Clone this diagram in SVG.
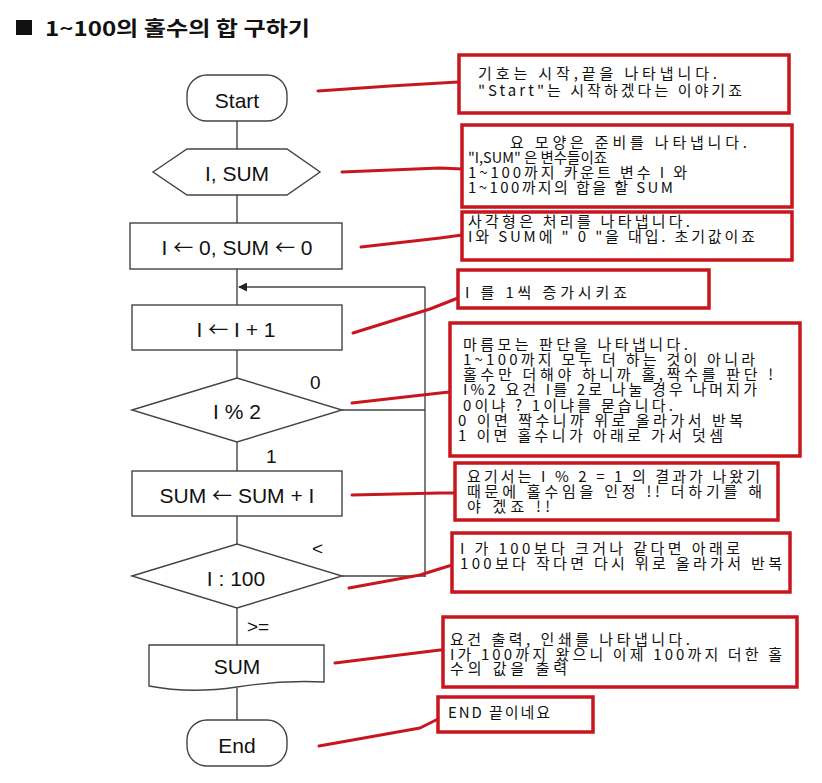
<svg xmlns="http://www.w3.org/2000/svg" width="822" height="783" viewBox="0 0 822 783">
<defs>
<style>
.shape{fill:#fff;stroke:#444;stroke-width:1.4}
.flow{fill:none;stroke:#444;stroke-width:1.4}
.lbl{font-family:"Liberation Sans","Noto Sans CJK KR",sans-serif;font-size:21px;fill:#111;text-anchor:middle}
.ar{font-family:"Noto Sans CJK KR",sans-serif;font-size:20px}
.sm{font-family:"Liberation Sans","Noto Sans CJK KR",sans-serif;font-size:19px;fill:#111}
.box{fill:#fff;stroke:#c8161e;stroke-width:3.5}
.ptr{fill:none;stroke:#c8161e;stroke-width:3;stroke-linecap:round;stroke-linejoin:round}
.note{font-family:"Noto Sans CJK KR","Noto Sans CJK SC",sans-serif;font-size:15px;fill:#111}
.title{font-family:"Noto Sans CJK KR","Liberation Sans",sans-serif;font-size:20px;font-weight:bold;fill:#111}
</style>
<marker id="ah" viewBox="0 0 10 10" refX="9" refY="5" markerWidth="9" markerHeight="9" markerUnits="userSpaceOnUse" orient="auto">
<path d="M0,0 L10,5 L0,10 Z" fill="#222"/>
</marker>
</defs>
<rect width="822" height="783" fill="#fff"/>

<g id="title">
<rect x="16" y="20" width="16" height="15" fill="#111"/>
<text class="title" x="45" y="36" textLength="265" lengthAdjust="spacingAndGlyphs">1~100의 홀수의 합 구하기</text>
</g>

<g id="connectors">
<line class="flow" x1="237" y1="121" x2="237" y2="149"/>
<line class="flow" x1="237" y1="195" x2="237" y2="223"/>
<line class="flow" x1="237" y1="269" x2="237" y2="305"/>
<line class="flow" x1="237" y1="350" x2="237" y2="378"/>
<line class="flow" x1="237" y1="442" x2="237" y2="471"/>
<line class="flow" x1="237" y1="516" x2="237" y2="544"/>
<line class="flow" x1="237" y1="608" x2="237" y2="645"/>
<line class="flow" x1="237" y1="688" x2="237" y2="720"/>
<line class="flow" x1="342" y1="410" x2="425" y2="410"/>
<line class="flow" x1="342" y1="576" x2="425" y2="576"/>
<line class="flow" x1="425" y1="577" x2="425" y2="287"/>
<line class="flow" x1="425" y1="287" x2="239" y2="287" marker-end="url(#ah)"/>
<text class="sm" x="310" y="389">0</text>
<text class="sm" x="266" y="463">1</text>
<text class="sm" x="312" y="555">&lt;</text>
<text class="sm" x="247" y="633">&gt;=</text>
</g>

<g id="start">
<rect class="shape" x="187" y="75" width="100" height="46" rx="20"/>
<text class="lbl" x="237" y="108">Start</text>
</g>
<g id="prep">
<polygon class="shape" points="153,172 187,149 287,149 320,172 287,195 187,195"/>
<text class="lbl" x="237" y="181">I, SUM</text>
</g>
<g id="init">
<rect class="shape" x="130" y="223" width="212" height="46"/>
<text class="lbl" x="237" y="255">I <tspan class="ar">←</tspan> 0, SUM <tspan class="ar">←</tspan> 0</text>
</g>
<g id="inc">
<rect class="shape" x="132" y="305" width="210" height="45"/>
<text class="lbl" x="236" y="337">I <tspan class="ar">←</tspan> I + 1</text>
</g>
<g id="mod">
<polygon class="shape" points="132,410 237,378 342,410 237,442"/>
<text class="lbl" x="237" y="419">I % 2</text>
</g>
<g id="add">
<rect class="shape" x="132" y="471" width="210" height="45"/>
<text class="lbl" x="237" y="503">SUM <tspan class="ar">←</tspan> SUM + I</text>
</g>
<g id="cmp">
<polygon class="shape" points="132,576 237,544 342,576 237,608"/>
<text class="lbl" x="236" y="586">I : 100</text>
</g>
<g id="output">
<path class="shape" d="M149,645 L324,645 L324,682 Q280,680 237,687 Q190,694 149,686 Z"/>
<text class="lbl" x="237" y="674">SUM</text>
</g>
<g id="end">
<rect class="shape" x="187" y="720" width="100" height="46" rx="20"/>
<text class="lbl" x="237" y="753">End</text>
</g>

<g id="pointers">
<polyline class="ptr" points="318,91 390,86 458,82"/>
<polyline class="ptr" points="342,172 440,168 462,169"/>
<polyline class="ptr" points="361,247 440,238 462,235"/>
<polyline class="ptr" points="353,333 430,309 458,298"/>
<polyline class="ptr" points="352,403 440,393 450,392"/>
<polyline class="ptr" points="352,495 440,493 455,493"/>
<polyline class="ptr" points="349,588 420,575 452,565"/>
<polyline class="ptr" points="335,663 440,650 443,650"/>
<polyline class="ptr" points="319,746 420,728 440,718"/>
</g>

<g id="note1">
<rect class="box" x="459" y="55" width="330" height="58"/>
<text class="note" x="478" y="79" textLength="239" lengthAdjust="spacing">기호는 시작,끝을 나타냅니다.</text>
<text class="note" x="478" y="96" textLength="264" lengthAdjust="spacing">"Start"는 시작하겠다는 이야기죠</text>
</g>
<g id="note2">
<rect class="box" x="462" y="125" width="330" height="82"/>
<text class="note" x="510" y="148" textLength="237" lengthAdjust="spacing">요 모양은 준비를 나타냅니다.</text>
<text class="note" x="468" y="163" textLength="139" lengthAdjust="spacingAndGlyphs">"I,SUM" 은 변수들이죠</text>
<text class="note" x="468" y="178" textLength="219" lengthAdjust="spacing">1~100까지 카운트 변수 I 와</text>
<text class="note" x="468" y="193" textLength="205" lengthAdjust="spacing">1~100까지의 합을 할 SUM</text>
</g>
<g id="note3">
<rect class="box" x="462" y="212" width="330" height="48"/>
<text class="note" x="468" y="227" textLength="222" lengthAdjust="spacing">사각형은 처리를 나타냅니다.</text>
<text class="note" x="468" y="242" textLength="287" lengthAdjust="spacing">I와 SUM에 " 0 "을 대입. 초기값이죠</text>
</g>
<g id="note4">
<rect class="box" x="458" y="270" width="251" height="38"/>
<text class="note" x="465" y="298" textLength="162" lengthAdjust="spacing">I 를 1씩 증가시키죠</text>
</g>
<g id="note5">
<rect class="box" x="450" y="323" width="350" height="133"/>
<text class="note" x="463" y="350" textLength="225" lengthAdjust="spacing">마름모는 판단을 나타냅니다.</text>
<text class="note" x="463" y="365" textLength="292" lengthAdjust="spacing">1~100까지 모두 더 하는 것이 아니라</text>
<text class="note" x="463" y="380" textLength="310" lengthAdjust="spacing">홀수만 더해야 하니까 홀,짝수를 판단 !</text>
<text class="note" x="463" y="395" textLength="294" lengthAdjust="spacing">I%2 요건 I를 2로 나눌 경우 나머지가</text>
<text class="note" x="463" y="411" textLength="210" lengthAdjust="spacing">0이냐 ? 1이냐를 묻습니다.</text>
<text class="note" x="458" y="426" textLength="285" lengthAdjust="spacing">0 이면 짝수니까 위로 올라가서 반복</text>
<text class="note" x="458" y="441" textLength="265" lengthAdjust="spacing">1 이면 홀수니가 아래로 가서 덧셈</text>
</g>
<g id="note6">
<rect class="box" x="455" y="463" width="323" height="57"/>
<text class="note" x="467" y="482" textLength="293" lengthAdjust="spacing">요기서는 I % 2 = 1 의 결과가 나왔기</text>
<text class="note" x="467" y="497" textLength="295" lengthAdjust="spacing">때문에 홀수임을 인정 !! 더하기를 해</text>
<text class="note" x="467" y="512" textLength="83" lengthAdjust="spacing">야 겠죠 !!</text>
</g>
<g id="note7">
<rect class="box" x="452" y="533" width="338" height="59"/>
<text class="note" x="460" y="554" textLength="280" lengthAdjust="spacing">I 가 100보다 크거나 같다면 아래로</text>
<text class="note" x="460" y="569" textLength="322" lengthAdjust="spacing">100보다 작다면 다시 위로 올라가서 반복</text>
</g>
<g id="note8">
<rect class="box" x="443" y="617" width="354" height="70"/>
<text class="note" x="450" y="645" textLength="240" lengthAdjust="spacing">요건 출력, 인쇄를 나타냅니다.</text>
<text class="note" x="450" y="660" textLength="332" lengthAdjust="spacing">I가 100까지 왔으니 이제 100까지 더한 홀</text>
<text class="note" x="450" y="674" textLength="117" lengthAdjust="spacing">수의 값을 출력</text>
</g>
<g id="note9">
<rect class="box" x="438" y="697" width="155" height="35"/>
<text class="note" x="448" y="718" textLength="102" lengthAdjust="spacing">END 끝이네요</text>
</g>
</svg>
